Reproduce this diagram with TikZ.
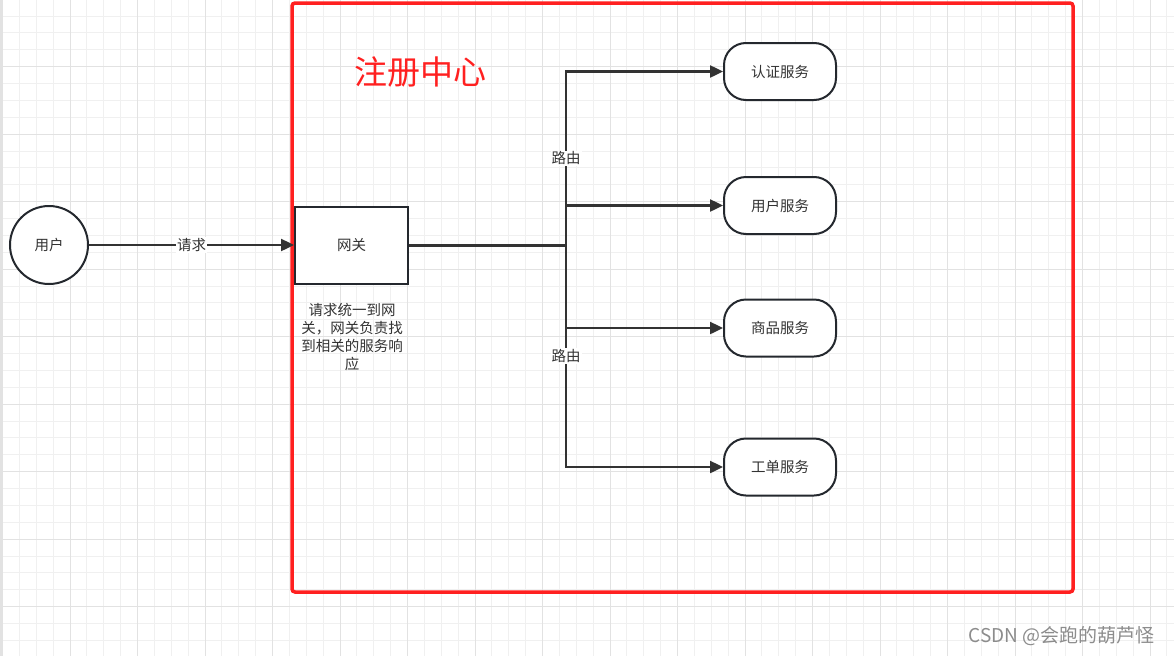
\documentclass[tikz,border=0pt]{standalone}
\usepackage{fontspec}
\setmainfont{Noto Sans CJK SC}
\usetikzlibrary{arrows.meta}
\definecolor{ink}{RGB}{36,40,46}
\definecolor{txt}{RGB}{51,51,51}
\definecolor{frame}{RGB}{255,32,32}
\definecolor{gridminor}{RGB}{240,240,240}
\definecolor{gridmajor}{RGB}{226,226,226}
\begin{document}
\begin{tikzpicture}[x=1pt,y=-1pt]
    \tikzstyle{arrow} = [line width=2.4pt, draw=txt, -{Triangle[length=13pt,width=12pt]}]
    \tikzstyle{wire} = [line width=3pt, draw=txt]
    \tikzstyle{user} = [circle, minimum size=78pt, draw=ink, fill=white, line width=2pt, text=txt, font=\fontsize{14.5}{17}\selectfont]
    \tikzstyle{gate} = [rectangle, minimum width=113pt, minimum height=77pt, draw=ink, fill=white, line width=2pt, text=txt, font=\fontsize{14.5}{17}\selectfont]
    \tikzstyle{service} = [rectangle, rounded corners=22pt, minimum width=112pt, minimum height=57pt, draw=ink, fill=white, line width=2pt, text=txt, font=\fontsize{14.5}{17}\selectfont]
    \tikzstyle{route} = [fill=white, inner sep=1pt, text=txt, font=\fontsize{14.5}{17}\selectfont]
    \tikzstyle{note} = [align=center, text=txt, font=\fontsize{14.5}{18.3}\selectfont]

    \useasboundingbox (0,0) rectangle (1174,656);
    \fill[white] (0,0) rectangle (1174,656);
    \foreach \i in {0,...,69} \draw[gridminor, line width=1pt] ({2.5+16.875*\i},0) -- ({2.5+16.875*\i},656);
    \foreach \i in {0,...,39} \draw[gridminor, line width=1pt] (0,{-0.8+16.875*\i}) -- (1174,{-0.8+16.875*\i});
    \foreach \i in {0,...,17} \draw[gridmajor, line width=1pt] ({2.5+67.5*\i},0) -- ({2.5+67.5*\i},656);
    \foreach \i in {0,...,9} \draw[gridmajor, line width=1pt] (0,{-0.8+67.5*\i}) -- (1174,{-0.8+67.5*\i});
    \fill[gridmajor] (0,0) rectangle (3,656);

    \draw[frame, line width=3.5pt, rounded corners=3pt] (292,3) rectangle (1073,592);
    \node[text=frame, font=\fontsize{33}{40}\selectfont](title) at (420,72){注册中心};

    \node[user](yh) at (49,245){用户};
    \node[gate](gw) at (351.5,245){网关};
    \node[note](gwnote) at (352,337){请求统一到网\\关，网关负责找\\到相关的服务响\\应};
    \coordinate(hub) at (566,245);

    \node[service](auth) at (780,71.5){认证服务};
    \node[service](usvc) at (780,205.5){用户服务};
    \node[service](goods) at (780,328){商品服务};
    \node[service](order) at (780,467){工单服务};

    \draw[arrow](yh)--node[route]{请求}(gw);
    \draw[wire](gw.east)--(hub);
    \draw[arrow](hub)|-node[route, pos=0.25]{路由}(auth.west);
    \draw[arrow](hub)|-(usvc.west);
    \draw[arrow](hub)|-(goods.west);
    \draw[arrow](hub)|-node[route, pos=0.25]{路由}(order.west);

    \node[anchor=east, text={rgb,255:red,140;green,140;blue,140}, font=\fontsize{19}{22}\selectfont](mark) at (1158,636){CSDN @会跑的葫芦怪};
\end{tikzpicture}
\end{document}
